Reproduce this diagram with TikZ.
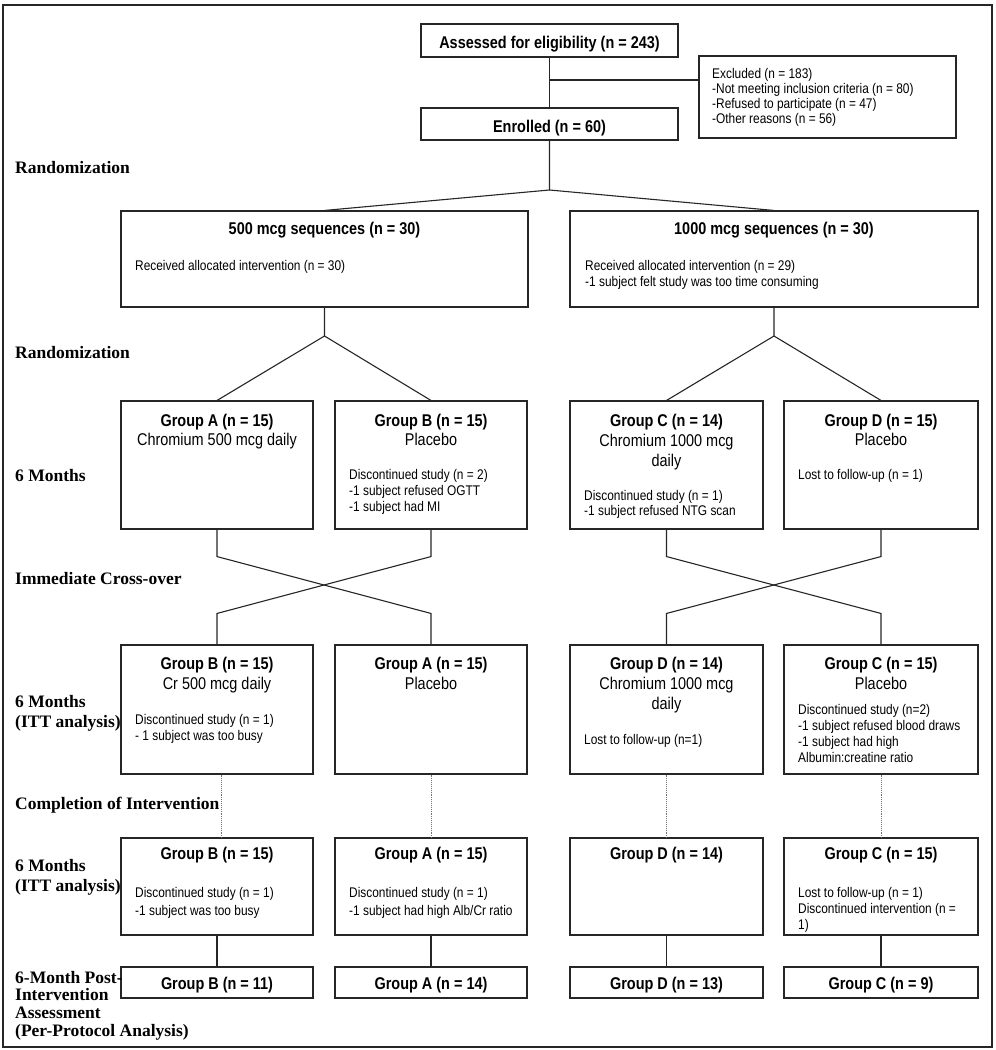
\documentclass[tikz,border=0pt]{standalone}
\usepackage{fontspec}
\setmainfont{Liberation Sans}[FakeStretch=0.85]
\newfontfamily\labfont{Liberation Serif}
\usetikzlibrary{calc}
\newcommand\lft[1]{\parbox[t]{260pt}{\raggedright #1}}
\newcommand\ctr[1]{\parbox[t]{240pt}{\centering #1}}
\newcommand\mybox[5]{\node[box, minimum width={(#4-#2)*1pt}, minimum height={(#5-#3)*1pt}] (#1) at ({(#2+#4)/2},{(#3+#5)/2}) {};}
\begin{document}
\begin{tikzpicture}[x=1pt,y=-1pt,
  box/.style={draw=black!85, line width=1.1pt, inner sep=0pt, fill=white},
  ln/.style={draw=black!85, line width=1.1pt},
  dot/.style={draw=black!55, line width=0.9pt, densely dotted},
  tb/.style={inner sep=0pt, anchor=base, font=\bfseries\fontsize{17}{20}\selectfont},
  tc/.style={inner sep=0pt, anchor=base, font=\fontsize{17}{20}\selectfont},
  ts/.style={inner sep=0pt, anchor=base west, font=\fontsize{14}{15.5}\selectfont},
  lab/.style={inner sep=0pt, anchor=base west, font=\labfont\bfseries\fontsize{17.5}{20}\selectfont}]
\useasboundingbox (0,0) rectangle (996,1050);
\node[draw=black!85, line width=1.1pt, minimum width=989pt, minimum height=1042pt, inner sep=0pt] (frame) at (497.5,526) {};

% boxes
\mybox{assess}{421}{24}{678}{57}
\mybox{excl}{699}{56}{956}{138}
\mybox{enrol}{421}{108}{678}{140}
\mybox{seqA}{121}{211}{528}{307}
\mybox{seqB}{570}{211}{978}{307}
\mybox{gA1}{121}{401}{313}{529}
\mybox{gB1}{335}{401}{527}{529}
\mybox{gC1}{570}{401}{763}{529}
\mybox{gD1}{784}{401}{978}{529}
\mybox{r3a}{121}{645}{313}{774}
\mybox{r3b}{335}{645}{527}{774}
\mybox{r3c}{570}{645}{763}{774}
\mybox{r3d}{784}{645}{978}{774}
\mybox{r4a}{121}{838}{313}{935}
\mybox{r4b}{335}{838}{527}{935}
\mybox{r4c}{570}{838}{763}{935}
\mybox{r4d}{784}{838}{978}{935}
\mybox{r5a}{121}{967}{313}{998}
\mybox{r5b}{335}{967}{527}{998}
\mybox{r5c}{570}{967}{763}{998}
\mybox{r5d}{784}{967}{978}{998}

% connectors
\draw[ln] (assess.south) -- (enrol.north);
\coordinate (j1) at (549.5,80);
\draw[ln] (j1) -- (j1 -| excl.west);
\coordinate (r0) at (549.5,190);
\draw[ln] (enrol.south) -- (r0) -- (seqA.north);
\draw[ln] (r0) -- (seqB.north);
\coordinate (ra) at (324.5,336);
\draw[ln] (seqA.south) -- (ra) -- (gA1.north);
\draw[ln] (ra) -- (gB1.north);
\coordinate (rb) at (774,336);
\draw[ln] (seqB.south) -- (rb) -- (gC1.north);
\draw[ln] (rb) -- (gD1.north);
\draw[ln] (gA1.south) -- ++(0,27) -- ($(r3b.north)+(0,-31)$) -- (r3b.north);
\draw[ln] (gB1.south) -- ++(0,27) -- ($(r3a.north)+(0,-31)$) -- (r3a.north);
\draw[ln] (gC1.south) -- ++(0,27) -- ($(r3d.north)+(0,-31)$) -- (r3d.north);
\draw[ln] (gD1.south) -- ++(0,27) -- ($(r3c.north)+(0,-31)$) -- (r3c.north);
\draw[dot] ($(r3a.south)+(4,0)$) -- ($(r4a.north)+(4,0)$);
\draw[dot] (r3b.south) -- (r4b.north);
\draw[dot] (r3c.south) -- (r4c.north);
\draw[dot] (r3d.south) -- (r4d.north);
\draw[ln] (r4a.south) -- (r5a.north);
\draw[ln] (r4b.south) -- (r5b.north);
\draw[ln] (r4c.south) -- (r5c.north);
\draw[ln] (r4d.south) -- (r5d.north);

% left labels
\node[lab] (l1) at (15,173) {Randomization};
\node[lab] (l2) at (15,358) {Randomization};
\node[lab] (l3) at (15,481) {6 Months};
\node[lab] (l4) at (15,584) {Immediate Cross-over};
\node[lab] (l5) at (15,707) {\parbox[t]{200pt}{6 Months\\(ITT analysis)}};
\node[lab] (l6) at (15,809) {Completion of Intervention};
\node[lab] (l7) at (15,871) {\parbox[t]{200pt}{6 Months\\(ITT analysis)}};
\node[lab, font=\labfont\bfseries\fontsize{17.5}{17.7}\selectfont] (l8) at (15,983) {\parbox[t]{300pt}{6-Month Post-\\Intervention\\Assessment\\(Per-Protocol Analysis)}};

% top texts
\node[tb] (tassess) at (549.5,48) {Assessed for eligibility (n = 243)};
\node[tb] (tenrol) at (549.5,132) {Enrolled (n = 60)};
\node[ts, font=\fontsize{14}{15.3}\selectfont] (texcl) at (712,78) {\lft{Excluded (n = 183)\\-Not meeting inclusion criteria (n = 80)\\-Refused to participate (n = 47)\\-Other reasons (n = 56)}};

% sequence boxes
\node[tb] (tseqA) at (324.5,234) {500 mcg sequences (n = 30)};
\node[ts] (bseqA) at (135,270) {Received allocated intervention (n = 30)};
\node[tb] (tseqB) at (774,234) {1000 mcg sequences (n = 30)};
\node[ts, font=\fontsize{14}{16}\selectfont] (bseqB) at (585,270) {\lft{Received allocated intervention (n = 29)\\-1 subject felt study was too time consuming}};

% row 1
\node[tc, font=\fontsize{17}{19.5}\selectfont] (tgA1) at (217,426) {\ctr{\textbf{Group A (n = 15)}\\Chromium 500 mcg daily}};
\node[tc, font=\fontsize{17}{19.5}\selectfont] (tgB1) at (431,426) {\ctr{\textbf{Group B (n = 15)}\\Placebo}};
\node[ts, font=\fontsize{14}{16}\selectfont] (bgB1) at (349,479) {\lft{Discontinued study (n = 2)\\-1 subject refused OGTT\\-1 subject had MI}};
\node[tc, font=\fontsize{17}{20}\selectfont] (tgC1) at (666.5,426) {\ctr{\textbf{Group C (n = 14)}\\Chromium 1000 mcg\\daily}};
\node[ts, font=\fontsize{14}{15}\selectfont] (bgC1) at (584,500) {\lft{Discontinued study (n = 1)\\-1 subject refused NTG scan}};
\node[tc, font=\fontsize{17}{19.5}\selectfont] (tgD1) at (881,426) {\ctr{\textbf{Group D (n = 15)}\\Placebo}};
\node[ts] (bgD1) at (798,479) {Lost to follow-up (n = 1)};

% row 3
\node[tc, font=\fontsize{17}{20}\selectfont] (t3a) at (217,669) {\ctr{\textbf{Group B (n = 15)}\\Cr 500 mcg daily}};
\node[ts, font=\fontsize{14}{16}\selectfont] (b3a) at (135,724) {\lft{Discontinued study (n = 1)\\- 1 subject was too busy}};
\node[tc, font=\fontsize{17}{20}\selectfont] (t3b) at (431,669) {\ctr{\textbf{Group A (n = 15)}\\Placebo}};
\node[tc, font=\fontsize{17}{20}\selectfont] (t3c) at (666.5,669) {\ctr{\textbf{Group D (n = 14)}\\Chromium 1000 mcg\\daily}};
\node[ts] (b3c) at (584,744) {Lost to follow-up (n=1)};
\node[tc, font=\fontsize{17}{20}\selectfont] (t3d) at (881,669) {\ctr{\textbf{Group C (n = 15)}\\Placebo}};
\node[ts, font=\fontsize{14}{16}\selectfont] (b3d) at (798,714) {\lft{Discontinued study (n=2)\\-1 subject refused blood draws\\-1 subject had high\\Albumin:creatine ratio}};

% row 4
\node[tb] (t4a) at (217,859) {Group B (n = 15)};
\node[ts, font=\fontsize{14}{18}\selectfont] (b4a) at (135,897) {\lft{Discontinued study (n = 1)\\-1 subject was too busy}};
\node[tb] (t4b) at (431,859) {Group A (n = 15)};
\node[ts, font=\fontsize{14}{18}\selectfont] (b4b) at (349,897) {\lft{Discontinued study (n = 1)\\-1 subject had high Alb/Cr ratio}};
\node[tb] (t4c) at (666.5,859) {Group D (n = 14)};
\node[tb] (t4d) at (881,859) {Group C (n = 15)};
\node[ts, font=\fontsize{14}{16}\selectfont] (b4d) at (798,897) {\lft{Lost to follow-up (n = 1)\\Discontinued intervention (n =\\1)}};

% row 5
\node[tb] (t5a) at (217,989) {Group B (n = 11)};
\node[tb] (t5b) at (431,989) {Group A (n = 14)};
\node[tb] (t5c) at (666.5,989) {Group D (n = 13)};
\node[tb] (t5d) at (881,989) {Group C (n = 9)};
\end{tikzpicture}
\end{document}
